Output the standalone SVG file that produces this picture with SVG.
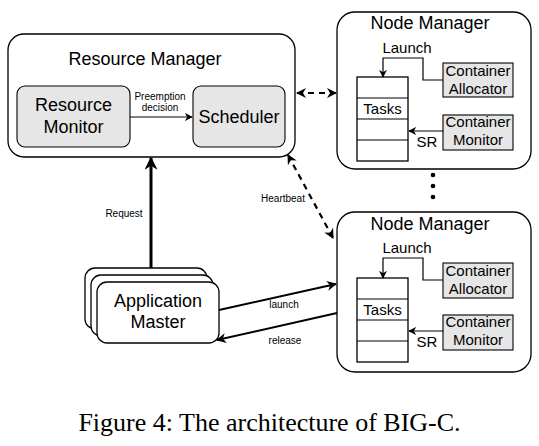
<svg xmlns="http://www.w3.org/2000/svg" width="539" height="446" viewBox="0 0 539 446">
<style>
text{font-family:"Liberation Sans",Arial,sans-serif;fill:#000;text-anchor:middle}
.t18{font-size:18px}
.t15{font-size:15px}
.t10{font-size:10px}
.box{fill:#fff;stroke:#000;stroke-width:1.3}
.gray{fill:#e6e6e6;stroke:#000;stroke-width:1.1}
.ln{fill:none;stroke:#000}
.cap{font-family:"Liberation Serif","Times New Roman",serif;font-size:26px}
</style>
<defs>
<marker id="ah" viewBox="0 0 10 10" refX="9" refY="5" markerWidth="10" markerHeight="10" markerUnits="userSpaceOnUse" orient="auto-start-reverse">
<path d="M0,0 L10,5 L0,10 L3,5 z" fill="#000"/>
</marker>
<marker id="ahs" viewBox="0 0 10 10" refX="9" refY="5" markerWidth="8" markerHeight="8" markerUnits="userSpaceOnUse" orient="auto-start-reverse">
<path d="M0,0 L10,5 L0,10 L3,5 z" fill="#000"/>
</marker>
<marker id="ahb" viewBox="0 0 10 10" refX="9" refY="5" markerWidth="13" markerHeight="13" markerUnits="userSpaceOnUse" orient="auto-start-reverse">
<path d="M0,0 L10,5 L0,10 L3,5 z" fill="#000"/>
</marker>
</defs>

<g id="resource-manager">
<rect class="box" x="8" y="34" width="287" height="123" rx="16"/>
<text class="t18" x="145" y="65">Resource Manager</text>
</g>
<g id="resource-monitor">
<rect class="gray" x="17" y="86" width="113" height="61" rx="8"/>
<text class="t18" x="73.5" y="111">Resource</text>
<text class="t18" x="73.5" y="133">Monitor</text>
</g>
<g id="scheduler">
<rect class="gray" x="193" y="86" width="92" height="61" rx="8"/>
<text class="t18" x="239" y="123">Scheduler</text>
</g>

<g id="node-manager-1">
<rect class="box" x="337" y="12" width="194" height="157" rx="18"/>
<text class="t18" x="430" y="29">Node Manager</text>
<g id="tasks-1">
<rect class="box" x="357" y="77" width="51" height="84" stroke-width="1"/>
<line class="ln" x1="357" y1="98" x2="408" y2="98"/>
<line class="ln" x1="357" y1="119" x2="408" y2="119"/>
<line class="ln" x1="357" y1="140" x2="408" y2="140"/>
<text class="t15" x="382.5" y="114">Tasks</text>
</g>
<g id="container-allocator-1">
<rect class="gray" x="443" y="63" width="70" height="34"/>
<text class="t15" x="478" y="76">Container</text>
<text class="t15" x="478" y="94">Allocator</text>
</g>
<g id="container-monitor-1">
<rect class="gray" x="443" y="115" width="70" height="35"/>
<text class="t15" x="478" y="127">Container</text>
<text class="t15" x="478" y="145">Monitor</text>
</g>
<text class="t15" x="407" y="53">Launch</text>
<text class="t15" x="427" y="147">SR</text>
</g>

<g id="node-manager-2">
<rect class="box" x="337" y="212" width="194" height="160" rx="18"/>
<text class="t18" x="430" y="230">Node Manager</text>
<g id="tasks-2">
<rect class="box" x="357" y="278" width="51" height="84" stroke-width="1"/>
<line class="ln" x1="357" y1="299" x2="408" y2="299"/>
<line class="ln" x1="357" y1="320" x2="408" y2="320"/>
<line class="ln" x1="357" y1="341" x2="408" y2="341"/>
<text class="t15" x="382.5" y="315">Tasks</text>
</g>
<g id="container-allocator-2">
<rect class="gray" x="443" y="263" width="70" height="35"/>
<text class="t15" x="478" y="276">Container</text>
<text class="t15" x="478" y="294">Allocator</text>
</g>
<g id="container-monitor-2">
<rect class="gray" x="443" y="315" width="70" height="35"/>
<text class="t15" x="478" y="327">Container</text>
<text class="t15" x="478" y="345">Monitor</text>
</g>
<text class="t15" x="407" y="253">Launch</text>
<text class="t15" x="427" y="347">SR</text>
</g>

<g id="ellipsis">
<circle cx="433" cy="175" r="2.3"/>
<circle cx="433" cy="186" r="2.3"/>
<circle cx="433" cy="197" r="2.3"/>
</g>

<g id="application-master">
<rect class="box" x="85" y="268" width="122" height="61" rx="10"/>
<rect class="box" x="91" y="275" width="122" height="61" rx="10"/>
<rect class="box" x="97" y="282" width="122" height="61" rx="10"/>
<text class="t18" x="158" y="307">Application</text>
<text class="t18" x="158" y="328">Master</text>
</g>

<g id="connectors">
<line class="ln" x1="130" y1="117" x2="192" y2="117" stroke-width="1.2" marker-end="url(#ahs)"/>
<text class="t10" x="160" y="100">Preemption</text>
<text class="t10" x="160" y="111">decision</text>

<polyline class="ln" points="443,80 423,80 423,58 383,58 383,77" stroke-width="1.2" marker-end="url(#ahs)"/>
<line class="ln" x1="443" y1="131" x2="409" y2="131" stroke-width="1.2" marker-end="url(#ahs)"/>
<polyline class="ln" points="443,280 423,280 423,258 383,258 383,278" stroke-width="1.2" marker-end="url(#ahs)"/>
<line class="ln" x1="443" y1="331" x2="409" y2="331" stroke-width="1.2" marker-end="url(#ahs)"/>

<line class="ln" x1="297" y1="93" x2="336" y2="93" stroke-width="2.2" stroke-dasharray="6,5" marker-start="url(#ah)" marker-end="url(#ah)"/>
<line class="ln" x1="288" y1="155" x2="333" y2="238" stroke-width="2.2" stroke-dasharray="6,5" marker-start="url(#ah)" marker-end="url(#ah)"/>
<text class="t10" x="283" y="202">Heartbeat</text>

<line class="ln" x1="151" y1="268" x2="151" y2="158" stroke-width="3" marker-end="url(#ahb)"/>
<text class="t10" x="124" y="217">Request</text>

<line class="ln" x1="219" y1="310" x2="336" y2="284" stroke-width="2" marker-end="url(#ah)"/>
<text class="t10" x="284" y="308">launch</text>
<line class="ln" x1="337" y1="313" x2="217" y2="340" stroke-width="2" marker-end="url(#ah)"/>
<text class="t10" x="285" y="344">release</text>
</g>

<text class="cap" x="269.5" y="431">Figure 4: The architecture of BIG-C.</text>
</svg>
